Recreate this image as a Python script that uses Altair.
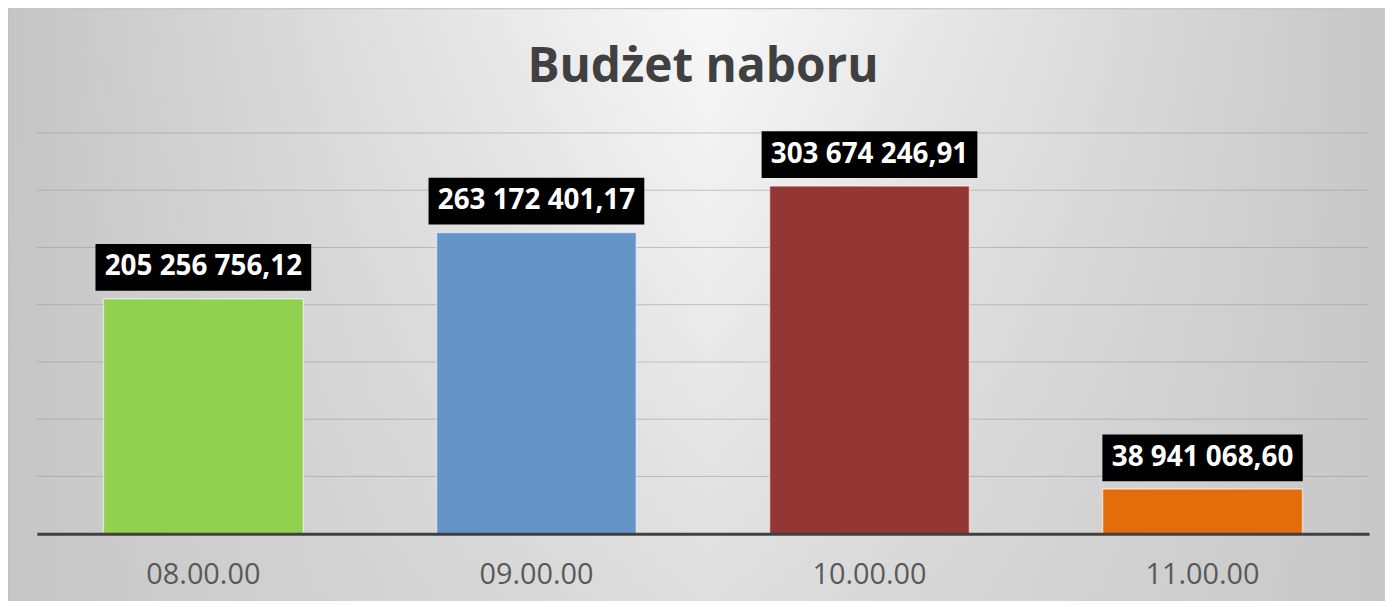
import altair as alt
import pandas as pd

categories = ["08.00.00", "09.00.00", "10.00.00", "11.00.00"]
values = [205256756.12, 263172401.17, 303674246.91, 38941068.60]
colors = ["#92D050", "#6594C8", "#943634", "#E46C0A"]
grid_ticks = [50e6, 100e6, 150e6, 200e6, 250e6, 300e6, 350e6]


def pl_format(v):
    s = f"{v:,.2f}"
    return s.replace(",", " ").replace(".", ",")


labels = [pl_format(v) for v in values]

df = pd.DataFrame({"cat": categories, "value": values, "label": labels})
grid_df = pd.DataFrame({"tick": grid_ticks})
bg_df = pd.DataFrame({"a": [0]})

W, H = 1340, 403
FONT = "Open Sans"

x_enc = alt.X(
    "cat:N",
    sort=categories,
    title=None,
    scale=alt.Scale(paddingInner=0.4, paddingOuter=0.2),
    axis=alt.Axis(
        labelFontSize=29,
        labelFont=FONT,
        labelColor="#595959",
        labelAngle=0,
        labelPadding=27,
        labelBaseline="top",
        ticks=False,
        domain=True,
        domainColor="#404040",
        domainWidth=3,
        grid=False,
        zindex=1,
    ),
)
y_scale = alt.Scale(domain=[0, 350e6], nice=False)

bg = alt.Chart(bg_df).mark_rect(
    fill=alt.Gradient(
        gradient="linear",
        x1=0, y1=0, x2=1, y2=0,
        stops=[
            alt.GradientStop(offset=0, color="#c5c5c5"),
            alt.GradientStop(offset=0.5, color="#f8f8f8"),
            alt.GradientStop(offset=1, color="#c5c5c5"),
        ],
    ),
    stroke="#bdbdbd",
    strokeWidth=1,
).encode(
    x=alt.value(-29), x2=alt.value(W + 40), y=alt.value(-125), y2=alt.value(H + 80)
)

bg2 = alt.Chart(bg_df).mark_rect(
    fill=alt.Gradient(
        gradient="linear",
        x1=0, y1=0, x2=0, y2=1,
        stops=[
            alt.GradientStop(offset=0, color="rgba(200,200,200,0)"),
            alt.GradientStop(offset=1, color="rgba(200,200,200,0.55)"),
        ],
    ),
).encode(
    x=alt.value(-28), x2=alt.value(W + 40), y=alt.value(-124), y2=alt.value(H + 80)
)

grid = alt.Chart(grid_df).mark_rule(color="#9a9a9a", strokeWidth=1, opacity=0.55).encode(
    y=alt.Y("tick:Q", scale=y_scale, axis=None)
)

bars = alt.Chart(df).mark_bar(
    stroke="#ffffff", strokeOpacity=0.55, strokeWidth=1.5
).encode(
    x=x_enc,
    y=alt.Y("value:Q", scale=y_scale, axis=None),
    color=alt.Color("cat:N", scale=alt.Scale(domain=categories, range=colors), legend=None),
)

boxes = alt.Chart(df).transform_calculate(
    boxw="length(datum.label) * 15.5"
).mark_bar(color="black", yOffset=-8, y2Offset=-55).encode(
    x=alt.X("cat:N", sort=categories),
    y=alt.Y("value:Q", scale=y_scale, axis=None),
    y2=alt.Y2("value:Q"),
    size=alt.Size("boxw:Q", scale=None, legend=None),
)

texts = alt.Chart(df).mark_text(
    font=FONT, fontSize=28, fontWeight="bold", color="white", baseline="middle", dy=-31.5
).encode(
    x=alt.X("cat:N", sort=categories),
    y=alt.Y("value:Q", scale=y_scale, axis=None),
    text="label:N",
)

chart = (
    alt.layer(bg, bg2, grid, bars, boxes, texts)
    .properties(
        width=W,
        height=H,
        title=alt.Title(
            "Budżet naboru",
            font=FONT,
            fontSize=48,
            fontWeight="bold",
            color="#404040",
            anchor="middle",
            frame="group",
            baseline="alphabetic",
            offset=-122,
        ),
        autosize=alt.AutoSizeParams(type="none"),
        padding={"left": 29, "top": 124, "right": 16, "bottom": 66},
        background="white",
    )
    .configure_view(stroke=None)
)

chart.save("out.html", embed_options={"renderer": "svg", "actions": False})
